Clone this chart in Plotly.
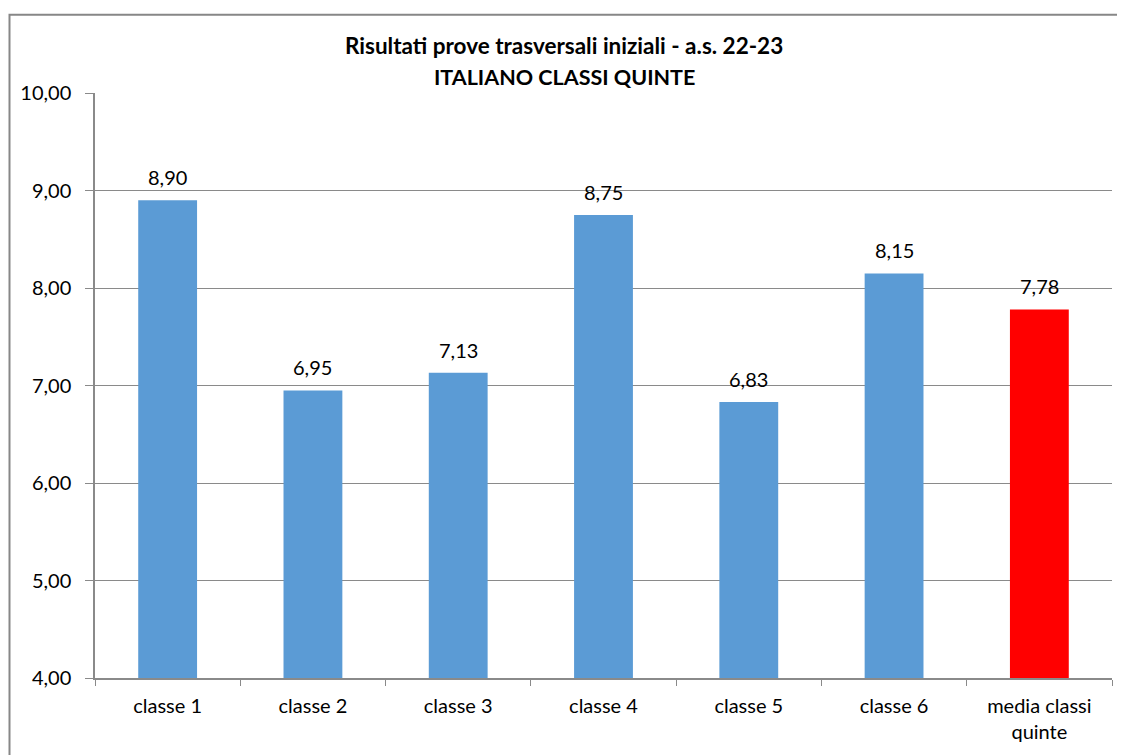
import plotly.graph_objects as go

categories = ["classe 1", "classe 2", "classe 3", "classe 4", "classe 5", "classe 6", "media classi<br>quinte"]
values = [8.90, 6.95, 7.13, 8.75, 6.83, 8.15, 7.78]
colors = ["#5B9BD5"] * 6 + ["#FF0000"]
title_line1 = "Risultati prove trasversali iniziali - a.s. 22-23"
title_line2 = "ITALIANO CLASSI QUINTE"

FONT = "Lato"
GRID = "#8A8A8A"

# page body has an 8px default margin; compensate so the plot lands where the reference is
OFF = 8
PL, PT, PW, PH = 95 - OFF, 93 - OFF, 1017, 590
W, H = 1125 - OFF, 755 - OFF

fig = go.Figure()
fig.add_trace(go.Bar(
    x=categories, y=values, marker=dict(color=colors, line=dict(width=0)),
    width=0.405, hoverinfo="skip"))

for c, v in zip(categories, values):
    fig.add_annotation(x=c, y=v, text=f"{v:.2f}".replace(".", ","), showarrow=False,
                       yanchor="bottom", yshift=9, font=dict(family=FONT, size=20, color="#000"))

def py(pix):  # reference pixel y -> paper coordinate
    return (683 - pix) / PH

def px(pix):
    return (pix - 95) / PW

fig.add_annotation(xref="paper", yref="paper", x=px(564), y=py(45), text=f"<b>{title_line1}</b>",
                   showarrow=False, xanchor="center", yanchor="middle",
                   font=dict(family=FONT, size=22.5, color="#000"))
fig.add_annotation(xref="paper", yref="paper", x=px(564), y=py(77), text=f"<b>{title_line2}</b>",
                   showarrow=False, xanchor="center", yanchor="middle",
                   font=dict(family=FONT, size=21.5, color="#000"))

fig.add_shape(type="rect", xref="paper", yref="paper",
              x0=px(9.5), x1=px(1140), y0=py(770), y1=py(14),
              line=dict(color="#878787", width=2), layer="below")

fig.update_layout(
    width=W, height=H,
    margin=dict(l=PL, r=W - PL - PW, t=PT, b=H - PT - PH),
    plot_bgcolor="white", paper_bgcolor="white",
    separators=",.",
    showlegend=False,
    font=dict(family=FONT, size=20, color="#000"),
    xaxis=dict(showgrid=False, showline=True, linecolor=GRID, linewidth=1.5,
               ticks="outside", tickson="boundaries", ticklen=6, tickcolor=GRID,
               tickfont=dict(family=FONT, size=20, color="#000"), ticklabelstandoff=9),
    yaxis=dict(range=[4, 10], dtick=1, tickformat=".2f", showgrid=True, gridcolor=GRID,
               gridwidth=1.2, showline=True, linecolor=GRID, linewidth=1.5,
               ticks="outside", ticklen=8, tickcolor=GRID, zeroline=False,
               tickfont=dict(family=FONT, size=20, color="#000"), ticklabelstandoff=10),
)

fig.write_html("out.html")
